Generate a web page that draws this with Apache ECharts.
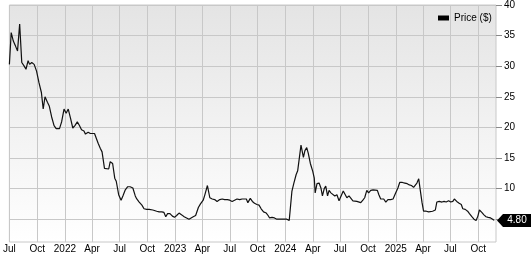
<!DOCTYPE html>
<html><head><meta charset="utf-8">
<script src="https://cdn.jsdelivr.net/npm/echarts@6/dist/echarts.min.js"></script>
<style>html,body{margin:0;padding:0;background:#fff}#c{width:531px;height:254px}</style>
</head><body><div id="c"></div>
<script>
var dates = ['2021-07-01','2021-07-07','2021-07-14','2021-07-22','2021-07-28','2021-08-04','2021-08-11','2021-08-18','2021-08-25','2021-09-01','2021-09-06','2021-09-13','2021-09-21','2021-09-29','2021-10-07','2021-10-15','2021-10-21','2021-10-27','2021-11-04','2021-11-10','2021-11-18','2021-11-26','2021-12-03','2021-12-14','2021-12-21','2021-12-29',
'2022-01-05','2022-01-12','2022-01-20','2022-01-27','2022-02-03','2022-02-11','2022-02-18','2022-02-25','2022-03-05','2022-03-10','2022-03-19','2022-03-26','2022-04-01','2022-04-09','2022-04-14','2022-04-21','2022-04-28','2022-05-04','2022-05-12','2022-05-18','2022-05-26','2022-05-31','2022-06-08','2022-06-15','2022-06-20','2022-06-28','2022-07-06','2022-07-12','2022-07-20','2022-07-28','2022-08-05','2022-08-14','2022-08-22','2022-08-27','2022-09-04','2022-09-13','2022-09-20','2022-09-29','2022-10-07','2022-10-12','2022-10-19','2022-10-25','2022-11-01','2022-11-09','2022-11-18','2022-11-25','2022-12-01','2022-12-07','2022-12-15','2022-12-23','2022-12-30',
'2023-01-06','2023-01-14','2023-01-23','2023-01-31','2023-02-08','2023-02-16','2023-02-22','2023-03-02','2023-03-10','2023-03-19','2023-03-26','2023-04-04','2023-04-09','2023-04-18','2023-04-26','2023-05-04','2023-05-12','2023-05-20','2023-05-29','2023-06-06','2023-06-14','2023-06-23','2023-07-01','2023-07-09','2023-07-17','2023-07-25','2023-08-03','2023-08-11','2023-08-17','2023-08-25','2023-08-30','2023-09-07','2023-09-14','2023-09-21','2023-09-29','2023-10-06','2023-10-13','2023-10-21','2023-10-30','2023-11-05','2023-11-10','2023-11-18','2023-11-26','2023-12-04','2023-12-12','2023-12-21','2023-12-29',
'2024-01-06','2024-01-14','2024-01-18','2024-01-23','2024-01-29','2024-02-06','2024-02-11','2024-02-16','2024-02-22','2024-03-01','2024-03-06','2024-03-12','2024-03-17','2024-03-24','2024-04-01','2024-04-06','2024-04-09','2024-04-15','2024-04-22','2024-04-28','2024-05-03','2024-05-09','2024-05-14','2024-05-20','2024-05-25','2024-05-31','2024-06-05','2024-06-13','2024-06-20','2024-06-27','2024-07-11','2024-07-16','2024-07-23','2024-07-30','2024-08-05','2024-08-12','2024-08-18','2024-08-25','2024-08-31','2024-09-07','2024-09-14','2024-09-20','2024-09-27','2024-10-03','2024-10-10','2024-10-18','2024-10-24','2024-11-01','2024-11-06','2024-11-12','2024-11-17','2024-11-22','2024-11-29','2024-12-06','2024-12-15','2024-12-23','2024-12-29',
'2025-01-03','2025-01-08','2025-01-14','2025-01-23','2025-01-31','2025-02-08','2025-02-15','2025-02-22','2025-03-01','2025-03-07','2025-03-12','2025-03-18','2025-03-23','2025-03-29','2025-04-03','2025-04-12','2025-04-20','2025-04-25','2025-05-03','2025-05-12','2025-05-17','2025-05-25','2025-06-03','2025-06-10','2025-06-17','2025-06-25','2025-07-02','2025-07-09','2025-07-14','2025-07-22','2025-07-30','2025-08-06','2025-08-11','2025-08-19','2025-08-27','2025-09-02','2025-09-10','2025-09-17','2025-09-24','2025-09-30','2025-10-05','2025-10-13','2025-10-20','2025-10-27','2025-11-03','2025-11-11','2025-11-18','2025-11-23'];
var prices = [30.3,35.5,34.1,33.2,32.5,36.9,30.6,30.1,29.5,30.9,30.3,30.6,30.3,29.2,27.3,25.7,23.0,25.0,24.1,23.5,21.7,20.3,19.8,19.8,20.9,23.0,
22.3,23.0,21.4,19.9,20.3,20.9,20.3,19.6,19.4,18.9,19.2,19.0,18.8,19.0,19.1,17.4,16.6,16.0,13.3,13.6,13.2,14.4,14.1,11.7,11.2,9.0,8.1,8.8,9.8,10.3,10.3,10.1,8.8,8.3,7.8,7.3,6.7,6.6,6.6,6.3,6.5,6.2,6.3,6.2,6.2,6.1,5.4,5.9,5.9,5.5,5.3,
5.6,6.0,5.7,5.4,5.2,5.0,5.3,5.4,5.6,6.9,7.5,8.1,8.9,10.5,8.5,8.3,8.2,7.9,8.2,8.3,8.2,8.2,8.1,7.9,8.1,8.3,8.2,8.3,8.0,8.3,7.7,8.4,7.9,7.6,7.4,7.3,6.7,6.2,6.0,5.6,5.2,5.3,5.2,5.0,5.0,5.0,5.0,
5.0,4.8,5.0,9.6,10.8,12.3,12.9,13.2,17.1,15.1,16.2,16.7,15.8,14.1,12.8,11.7,9.3,10.8,10.9,10.1,8.8,10.0,10.4,8.8,9.7,9.3,9.6,8.8,9.0,8.0,9.6,9.3,8.5,8.8,8.5,8.0,8.3,7.9,8.1,7.7,8.1,8.5,9.7,9.3,9.7,9.8,9.8,9.7,9.0,8.3,8.0,8.3,7.8,8.2,8.2,8.3,9.0,
9.3,10.1,11.0,11.0,10.9,10.8,10.6,10.5,10.2,10.3,10.9,11.6,9.8,7.7,6.3,6.3,6.2,6.2,6.3,6.5,7.8,7.9,7.8,7.9,7.8,8.0,7.8,7.9,8.3,7.9,7.6,7.4,6.7,6.6,6.3,5.9,5.4,5.0,4.8,5.5,6.5,6.1,5.7,5.4,5.3,5.2,5.0,4.8];
var xStart = '2021-07-01';
var xEnd = '2025-11-29';
var xTickDates = ['2021-07-01','2021-10-01','2022-01-01','2022-04-01','2022-07-01','2022-10-01','2023-01-01','2023-04-01','2023-07-01','2023-10-01','2024-01-01','2024-04-01','2024-07-01','2024-10-01','2025-01-01','2025-04-01','2025-07-01','2025-10-01'];
var xTickLabels = ['Jul','Oct','2022','Apr','Jul','Oct','2023','Apr','Jul','Oct','2024','Apr','Jul','Oct','2025','Apr','Jul','Oct'];
var yTicks = [5,10,15,20,25,30,35,40];
var yMin = 1.27, yMax = 40;
var seriesName = 'Price ($)';

function ts(s){var p=s.split('-');return Date.UTC(+p[0],+p[1]-1,+p[2]);}
var xTickTs = xTickDates.map(ts);
var labelMap = {};
xTickTs.forEach(function(t,i){labelMap[t]=xTickLabels[i];});
var data = dates.map(function(d,i){return [ts(d), prices[i]];});
var lastPrice = prices[prices.length-1];
var FONT = '"Liberation Sans", Arial, sans-serif';

var chart = echarts.init(document.getElementById('c'), null, {renderer:'canvas'});
chart.setOption({
  animation:false,
  backgroundColor:'#ffffff',
  grid:{left:6, right:35, top:3, bottom:12, show:true, borderColor:'#c8c8c8', borderWidth:1,
    backgroundColor:{type:'linear',x:0,y:0,x2:0,y2:1,colorStops:[{offset:0,color:'#e4e4e4'},{offset:1,color:'#ffffff'}]}},
  legend:{show:true, left:433, top:8, itemWidth:11, itemHeight:5, icon:'rect', itemGap:4,
    textStyle:{fontFamily:FONT, fontSize:10, color:'#000'}, data:[{name:seriesName, itemStyle:{color:'#000'}}]},
  xAxis:{type:'value', min:ts(xStart), max:ts(xEnd),
    axisLine:{show:false}, axisTick:{show:false, customValues:xTickTs},
    splitLine:{show:true, lineStyle:{color:'#c8c8c8', width:1}},
    axisLabel:{customValues:xTickTs, margin:2, fontFamily:FONT, fontSize:10, color:'#000',
      formatter:function(v){return labelMap[v]!==undefined?labelMap[v]:'';}}},
  yAxis:{type:'value', position:'right', min:yMin, max:yMax,
    axisLine:{show:false},
    axisTick:{show:true, customValues:yTicks, length:6, lineStyle:{color:'#888'}},
    splitLine:{show:true, lineStyle:{color:'#c8c8c8', width:1}},
    axisLabel:{customValues:yTicks, margin:8, fontFamily:FONT, fontSize:10, color:'#000'}},
  series:[{name:seriesName, type:'line', data:data, showSymbol:false, symbol:'none',
    lineStyle:{color:'#111', width:1.2}, itemStyle:{color:'#000'}, clip:false,
    markPoint:{silent:true, animation:false,
      data:[{coord:[ts(xEnd), lastPrice], symbol:'path://M0,6.5 L6,0 L34,0 L34,13 L6,13 Z',
        symbolSize:[34,13], symbolOffset:[18,0], itemStyle:{color:'#000'},
        label:{show:true, position:'inside', offset:[3,0], formatter:lastPrice.toFixed(2), color:'#fff', fontFamily:FONT, fontSize:10}}]}}]
});
</script></body></html>
